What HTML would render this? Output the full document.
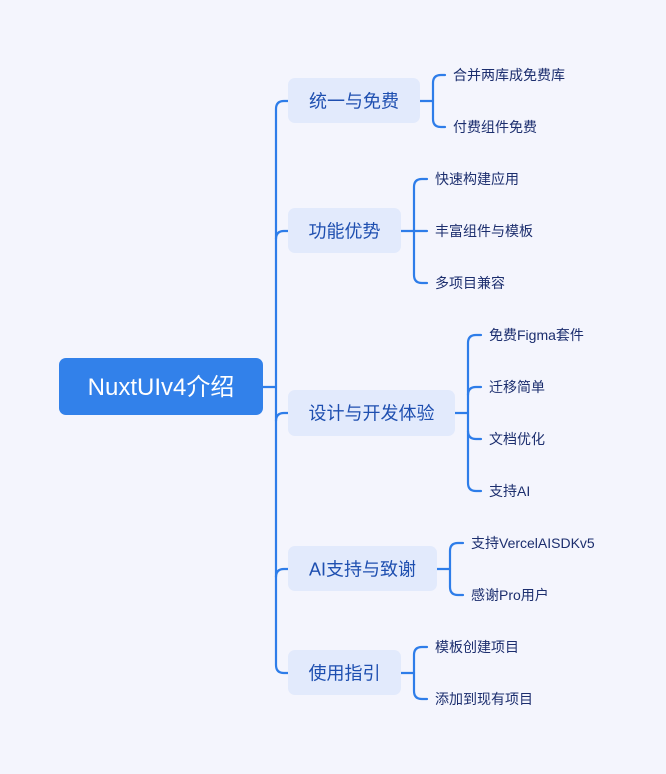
<!DOCTYPE html>
<html><head><meta charset="utf-8">
<style>
html,body{margin:0;padding:0;background:#f4f5fd;}
svg{display:block;}
text{font-family:"Liberation Sans","Noto Sans CJK SC",sans-serif;}
</style></head>
<body>
<svg width="666" height="774" viewBox="0 0 666 774" xmlns="http://www.w3.org/2000/svg">
<rect width="666" height="774" fill="#f4f5fd"/>
<g fill="none" stroke="#2e7de9" stroke-width="2.2" stroke-linecap="round">
  <path d="M263 387 H276"/>
  <path d="M289 101 H284 Q276 101 276 109 V665 Q276 673 284 673 H289"/>
  <path d="M276 239 Q276 231 284 231 H289"/>
  <path d="M276 421 Q276 413 284 413 H289"/>
  <path d="M276 577 Q276 569 284 569 H289"/>
  <path d="M420 101 H433"/>
  <path d="M445 75 H441 Q433 75 433 83 V119 Q433 127 441 127 H445"/>
  <path d="M401 231 H427"/>
  <path d="M427 179 H422 Q414 179 414 187 V275 Q414 283 422 283 H427"/>
  <path d="M455 413 H468"/>
  <path d="M481 335 H476 Q468 335 468 343 V483 Q468 491 476 491 H481"/>
  <path d="M468 395 Q468 387 476 387 H481"/>
  <path d="M468 431 Q468 439 476 439 H481"/>
  <path d="M437 569 H450"/>
  <path d="M463 543 H458 Q450 543 450 551 V587 Q450 595 458 595 H463"/>
  <path d="M401 673 H414"/>
  <path d="M427 647 H422 Q414 647 414 655 V691 Q414 699 422 699 H427"/>
</g>
<rect x="59" y="358" width="204" height="57" rx="7" fill="#3281ea"/>
<text x="161" y="395" font-size="24" fill="#fff" text-anchor="middle">NuxtUIv4介绍</text>
<g fill="#e2eafc">
  <rect x="288" y="78" width="132" height="45" rx="7"/>
  <rect x="288" y="208" width="113" height="45" rx="7"/>
  <rect x="288" y="390" width="167" height="46" rx="7"/>
  <rect x="288" y="546" width="149" height="45" rx="7"/>
  <rect x="288" y="650" width="113" height="45" rx="7"/>
</g>
<g font-size="18" fill="#1e4fb0" text-anchor="middle">
  <text x="354" y="107.5">统一与免费</text>
  <text x="344.5" y="237.5">功能优势</text>
  <text x="371.5" y="419.5">设计与开发体验</text>
  <text x="362.5" y="575.5">AI支持与致谢</text>
  <text x="344.5" y="679.5">使用指引</text>
</g>
<g font-size="14" fill="#1c2e6e">
  <text x="453" y="80">合并两库成免费库</text>
  <text x="453" y="132">付费组件免费</text>
  <text x="435" y="184">快速构建应用</text>
  <text x="435" y="236">丰富组件与模板</text>
  <text x="435" y="288">多项目兼容</text>
  <text x="489" y="340">免费Figma套件</text>
  <text x="489" y="392">迁移简单</text>
  <text x="489" y="444">文档优化</text>
  <text x="489" y="496">支持AI</text>
  <text x="471" y="548">支持VercelAISDKv5</text>
  <text x="471" y="600">感谢Pro用户</text>
  <text x="435" y="652">模板创建项目</text>
  <text x="435" y="704">添加到现有项目</text>
</g>
</svg>
</body></html>
